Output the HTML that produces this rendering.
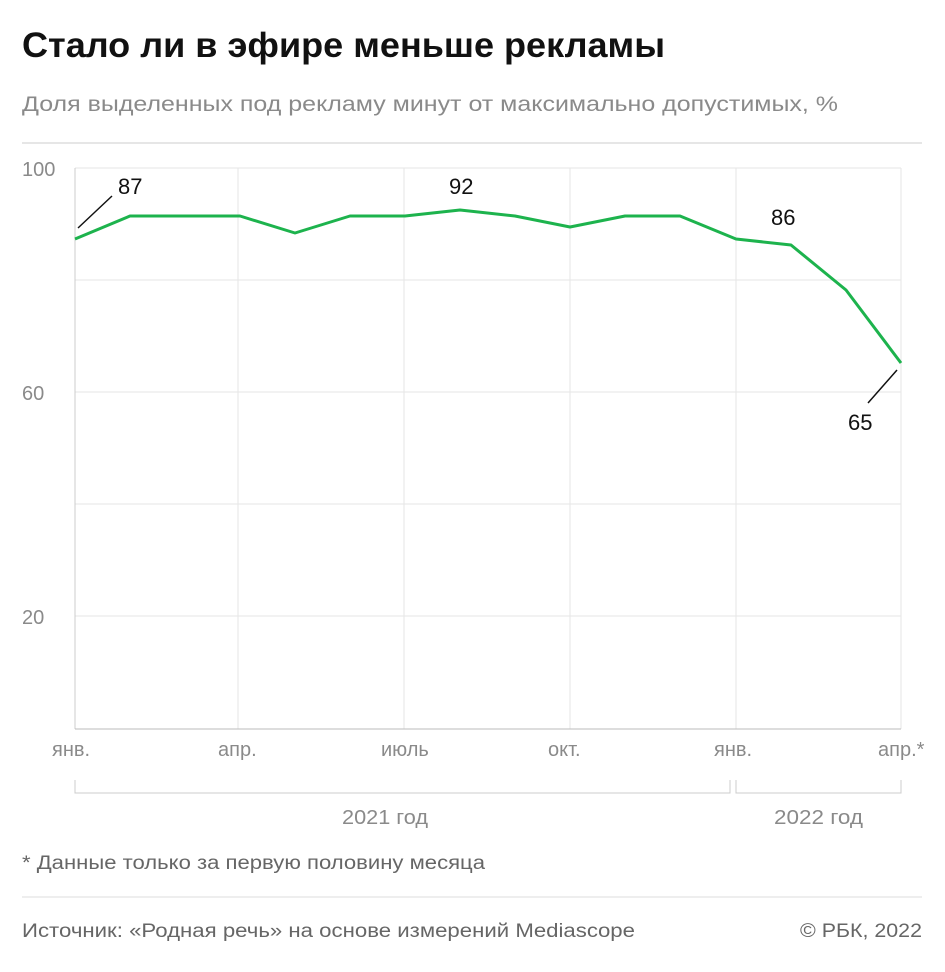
<!DOCTYPE html>
<html><head><meta charset="utf-8"><style>
body{margin:0;background:#fff;width:945px;height:967px;overflow:hidden;font-family:"Liberation Sans",sans-serif}
</style></head><body>
<svg width="945" height="967" xmlns="http://www.w3.org/2000/svg" font-family="Liberation Sans, sans-serif">
<text x="22" y="57" font-size="35" font-weight="bold" fill="#111" textLength="643" lengthAdjust="spacingAndGlyphs">Стало ли в эфире меньше рекламы</text>
<text x="22" y="111" font-size="21" fill="#8a8a8a" textLength="816" lengthAdjust="spacingAndGlyphs">Доля выделенных под рекламу минут от максимально допустимых, %</text>
<line x1="22" y1="143" x2="922" y2="143" stroke="#ccc"/>
<g stroke="#e6e6e6" stroke-width="1">
<line x1="75" y1="168" x2="901" y2="168"/><line x1="75" y1="280" x2="901" y2="280"/>
<line x1="75" y1="392" x2="901" y2="392"/><line x1="75" y1="504" x2="901" y2="504"/>
<line x1="75" y1="616" x2="901" y2="616"/>
<line x1="238" y1="168" x2="238" y2="729"/><line x1="404" y1="168" x2="404" y2="729"/>
<line x1="570" y1="168" x2="570" y2="729"/><line x1="736" y1="168" x2="736" y2="729"/>
<line x1="901" y1="168" x2="901" y2="729"/>
</g>
<line x1="75" y1="168" x2="75" y2="729" stroke="#ccc"/>
<line x1="75" y1="729" x2="901" y2="729" stroke="#bbb"/>
<g font-size="20" fill="#8a8a8a">
<text x="22" y="176">100</text><text x="22" y="400">60</text><text x="22" y="624">20</text>
<text x="52" y="756">янв.</text><text x="218" y="756">апр.</text><text x="381" y="756">июль</text>
<text x="548" y="756">окт.</text><text x="714" y="756">янв.</text><text x="878" y="756">апр.*</text>
<text x="342" y="824" textLength="86" lengthAdjust="spacingAndGlyphs">2021 год</text><text x="774" y="824" textLength="89" lengthAdjust="spacingAndGlyphs">2022 год</text>
</g>
<g stroke="#ccc" fill="none">
<path d="M75,780V793H730V780"/><path d="M736,780V793H901V780"/>
</g>
<polyline fill="none" stroke="#1db34d" stroke-width="3" stroke-linejoin="round"
points="75,239 130,216 185,216 240,216 295,233 350,216 405,216 460,210 515,216 570,227 625,216 680,216 736,239 791,245 846,290 901,363"/>
<g stroke="#111" stroke-width="1.5"><line x1="78" y1="228" x2="112" y2="196"/><line x1="868" y1="403" x2="897" y2="370"/></g>
<g font-size="22" fill="#111">
<text x="118" y="194">87</text><text x="449" y="194">92</text><text x="771" y="225">86</text><text x="848" y="430">65</text>
</g>
<text x="22" y="869" font-size="19" fill="#666" textLength="463" lengthAdjust="spacingAndGlyphs">* Данные только за первую половину месяца</text>
<line x1="22" y1="897" x2="922" y2="897" stroke="#ddd"/>
<text x="22" y="937" font-size="19" fill="#666" textLength="613" lengthAdjust="spacingAndGlyphs">Источник: «Родная речь» на основе измерений Mediascope</text>
<text x="800" y="937" font-size="19" fill="#666" textLength="122" lengthAdjust="spacingAndGlyphs">© РБК, 2022</text>
</svg>
</body></html>
